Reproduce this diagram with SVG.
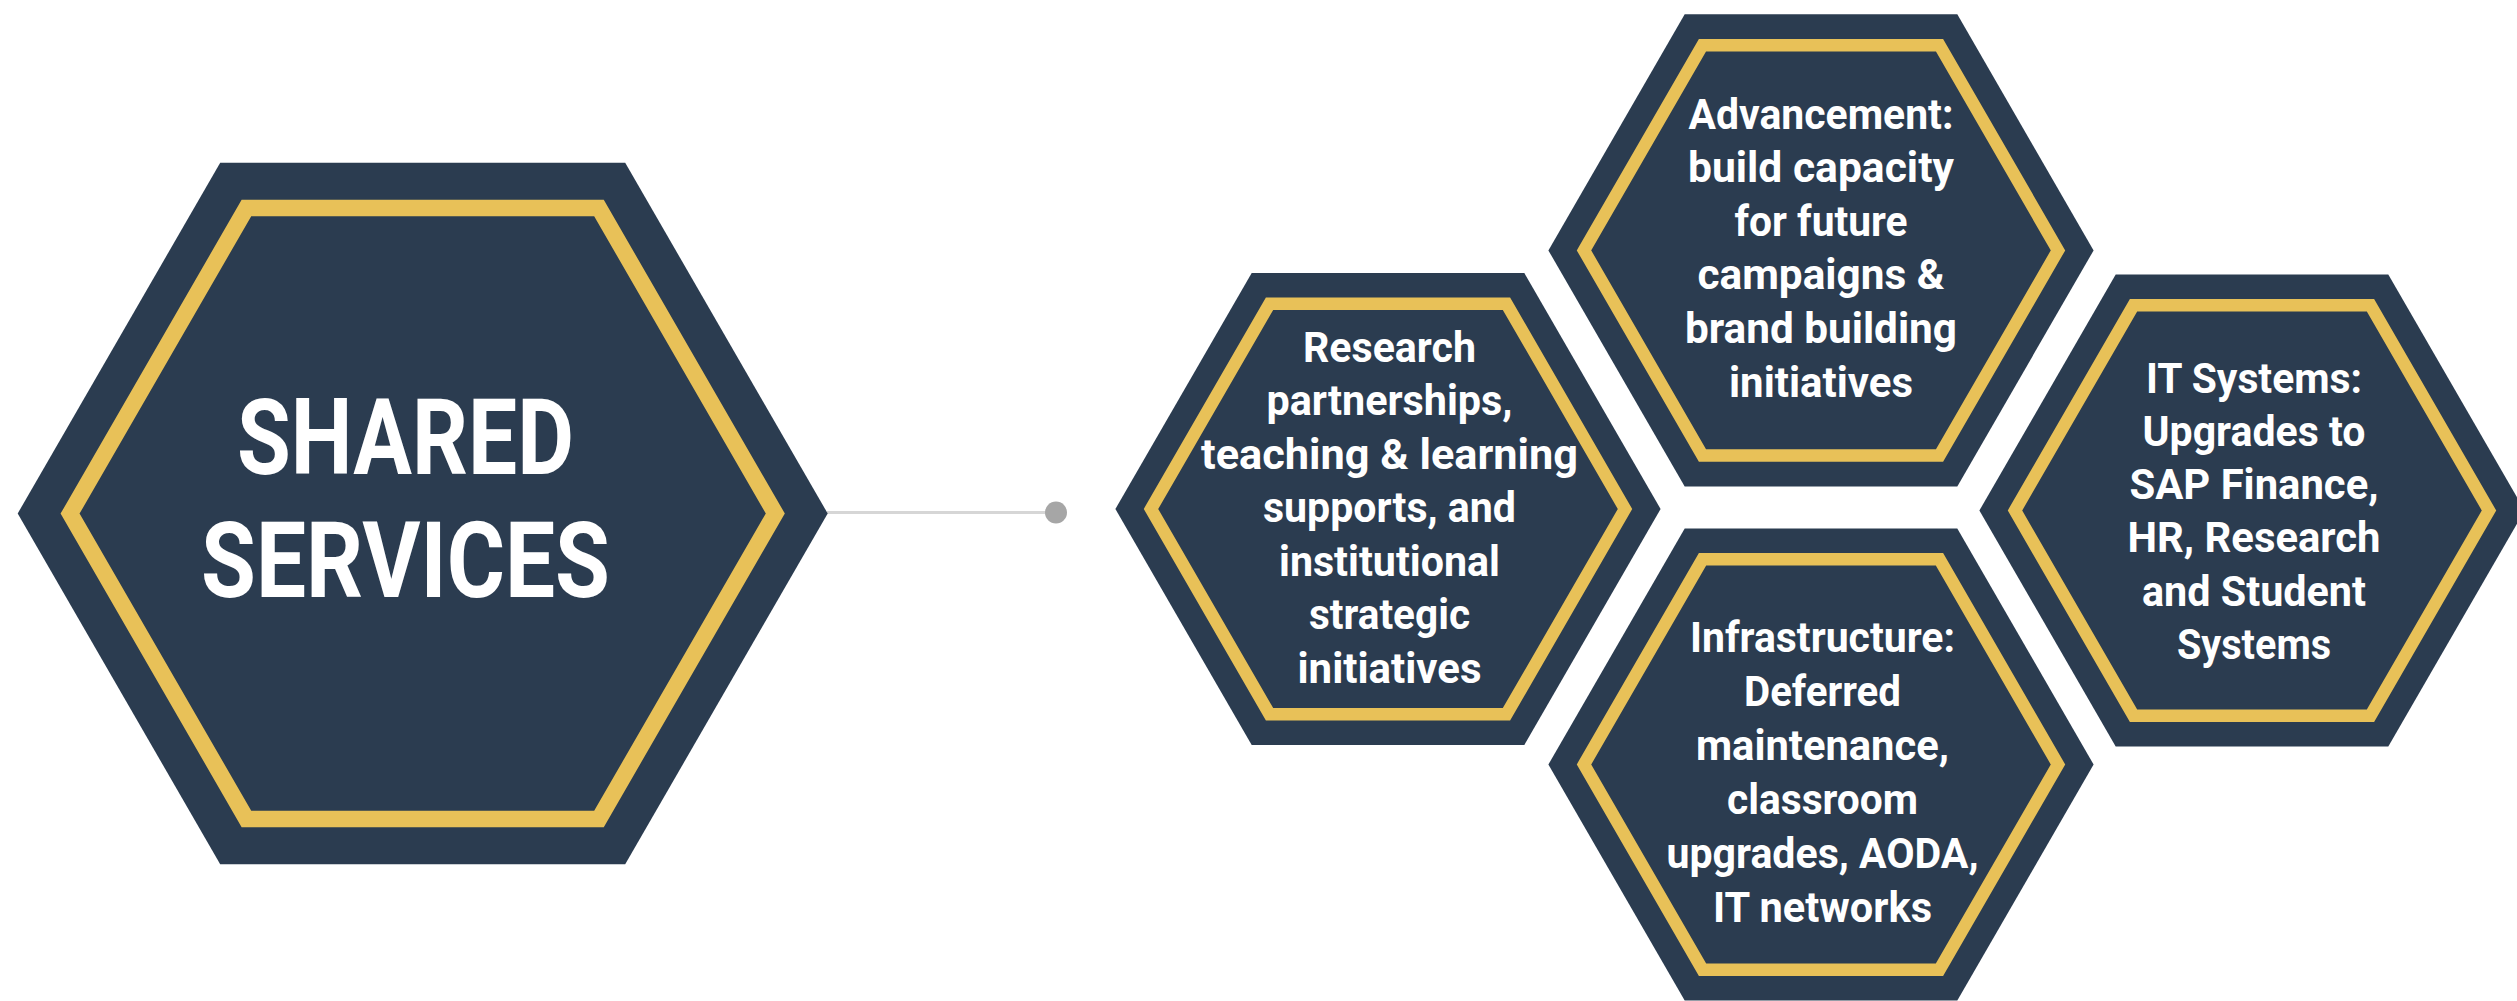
<svg xmlns="http://www.w3.org/2000/svg" xmlns:xlink="http://www.w3.org/1999/xlink" width="2517" height="1001" viewBox="0 0 2517 1001">
<style>
.hex{fill:#2b3c50;}
.ring{fill:none;stroke:#e8c158;}
.lbl{font-family:Roboto,"Liberation Sans",Arial,sans-serif;font-weight:bold;fill:#ffffff;text-anchor:middle;}
.big{font-size:105px;}
.small{font-size:43px;}
.conn{stroke:#d6d6d6;stroke-width:3;fill:none;}
.dot{fill:#a6a6a6;}
</style>
<defs>
<g id="hexSmall">
<polygon class="hex" points="-272.6,0 -136.3,-236.1 136.3,-236.1 272.6,0 136.3,236.1 -136.3,236.1"/>
<polygon class="ring" stroke-width="12.5" points="-237,0 -118.5,-205.2 118.5,-205.2 237,0 118.5,205.2 -118.5,205.2"/>
</g>
</defs>
<rect width="2517" height="1001" fill="#ffffff"/>
<g id="connectors">
<line class="conn" x1="827" y1="512.5" x2="1056" y2="512.5"/>
<circle class="dot" cx="1056" cy="512.5" r="11"/>
</g>
<g id="shared-services">
<polygon class="hex" points="17.7,513.5 220.2,162.8 625.2,162.8 827.7,513.5 625.2,864.2 220.2,864.2"/>
<polygon class="ring" stroke-width="16.5" points="70.1,513.5 246.4,208.1 599,208.1 775.3,513.5 599,818.9 246.4,818.9"/>
<text class="lbl big" x="405.5" y="474" textLength="337" lengthAdjust="spacingAndGlyphs">SHARED</text>
<text class="lbl big" x="405.5" y="596.5" textLength="409" lengthAdjust="spacingAndGlyphs">SERVICES</text>
</g>
<g id="research">
<use xlink:href="#hexSmall" href="#hexSmall" transform="translate(1388,509)"/>
<text class="lbl small" x="1389.5" y="361.7" textLength="173" lengthAdjust="spacingAndGlyphs">Research</text>
<text class="lbl small" x="1389.5" y="415.2" textLength="246" lengthAdjust="spacingAndGlyphs">partnerships,</text>
<text class="lbl small" x="1389.5" y="468.7" textLength="377" lengthAdjust="spacingAndGlyphs">teaching &amp; learning</text>
<text class="lbl small" x="1389.5" y="522.2" textLength="253" lengthAdjust="spacingAndGlyphs">supports, and</text>
<text class="lbl small" x="1389.5" y="575.7" textLength="221" lengthAdjust="spacingAndGlyphs">institutional</text>
<text class="lbl small" x="1389.5" y="629.2" textLength="161" lengthAdjust="spacingAndGlyphs">strategic</text>
<text class="lbl small" x="1389.5" y="682.7" textLength="184" lengthAdjust="spacingAndGlyphs">initiatives</text>
</g>
<g id="advancement">
<use xlink:href="#hexSmall" href="#hexSmall" transform="translate(1821,250.4)"/>
<text class="lbl small" x="1821" y="128.5" textLength="265" lengthAdjust="spacingAndGlyphs">Advancement:</text>
<text class="lbl small" x="1821" y="182.1" textLength="266" lengthAdjust="spacingAndGlyphs">build capacity</text>
<text class="lbl small" x="1821" y="235.7" textLength="173" lengthAdjust="spacingAndGlyphs">for future</text>
<text class="lbl small" x="1821" y="289.3" textLength="247" lengthAdjust="spacingAndGlyphs">campaigns &amp;</text>
<text class="lbl small" x="1821" y="342.9" textLength="272" lengthAdjust="spacingAndGlyphs">brand building</text>
<text class="lbl small" x="1821" y="396.5" textLength="184" lengthAdjust="spacingAndGlyphs">initiatives</text>
</g>
<g id="infrastructure">
<use xlink:href="#hexSmall" href="#hexSmall" transform="translate(1821,764.5)"/>
<text class="lbl small" x="1822.5" y="652" textLength="265" lengthAdjust="spacingAndGlyphs">Infrastructure:</text>
<text class="lbl small" x="1822.5" y="706" textLength="157" lengthAdjust="spacingAndGlyphs">Deferred</text>
<text class="lbl small" x="1822.5" y="760" textLength="253" lengthAdjust="spacingAndGlyphs">maintenance,</text>
<text class="lbl small" x="1822.5" y="814" textLength="191" lengthAdjust="spacingAndGlyphs">classroom</text>
<text class="lbl small" x="1822.5" y="868" textLength="312" lengthAdjust="spacingAndGlyphs">upgrades, AODA,</text>
<text class="lbl small" x="1822.5" y="922" textLength="219" lengthAdjust="spacingAndGlyphs">IT networks</text>
</g>
<g id="it-systems">
<use xlink:href="#hexSmall" href="#hexSmall" transform="translate(2252,510.5)"/>
<text class="lbl small" x="2254" y="392.5" textLength="216" lengthAdjust="spacingAndGlyphs">IT Systems:</text>
<text class="lbl small" x="2254" y="445.8" textLength="223" lengthAdjust="spacingAndGlyphs">Upgrades to</text>
<text class="lbl small" x="2254" y="499.1" textLength="249" lengthAdjust="spacingAndGlyphs">SAP Finance,</text>
<text class="lbl small" x="2254" y="552.4" textLength="253" lengthAdjust="spacingAndGlyphs">HR, Research</text>
<text class="lbl small" x="2254" y="605.7" textLength="224" lengthAdjust="spacingAndGlyphs">and Student</text>
<text class="lbl small" x="2254" y="659" textLength="154" lengthAdjust="spacingAndGlyphs">Systems</text>
</g>
</svg>
